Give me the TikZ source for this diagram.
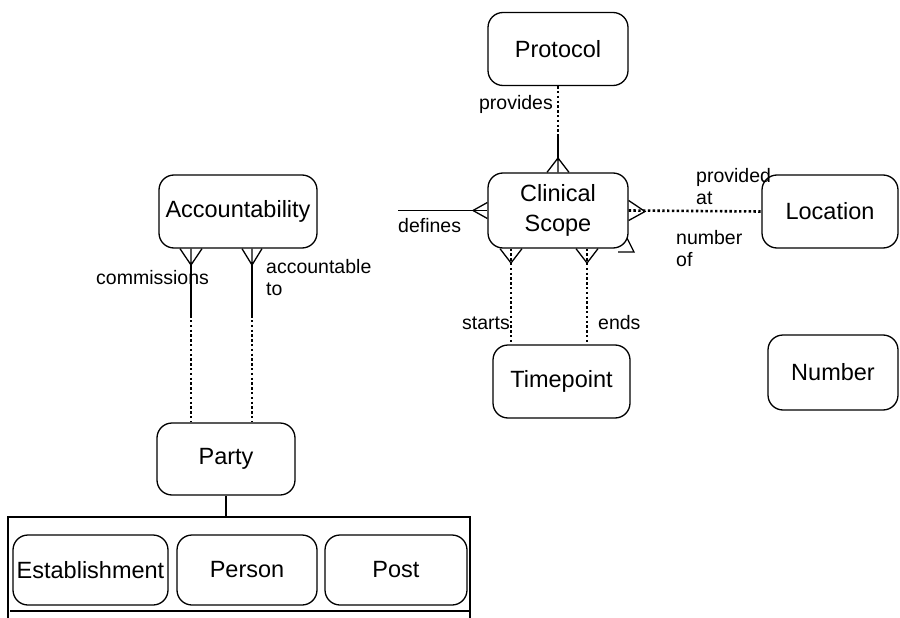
\documentclass[tikz,border=0pt]{standalone}
\usepackage{fontspec}
\setmainfont{Liberation Sans}
\usepackage{tikz}
\tikzstyle{entity} = [draw, line width=1.3pt, rounded corners=15pt, minimum width=140pt, minimum height=73pt, inner sep=0pt, align=center, font=\fontsize{23.5}{30}\selectfont]
\tikzstyle{lbl} = [inner sep=0pt, align=left, font=\fontsize{19.5}{22}\selectfont]
\tikzstyle{rel} = [line width=1.3pt]
\tikzstyle{opt} = [line width=2.6pt, dash pattern=on 2.4pt off 2.4pt]

\begin{document}
\begin{tikzpicture}[x=1pt,y=-1pt]
			\useasboundingbox (0,0) rectangle (900,618);
			%entities
			\node[entity] (protocol) at (558,49) {Protocol};
			\node[entity, minimum height=75pt] (scope) at (558,210.5) {Clinical\\Scope};
			\node[entity, minimum width=136pt] (location) at (830,211.5) {Location};
			\node[entity, minimum width=137pt] (timepoint) at (561.5,381.5) {Timepoint};
			\node[entity, minimum width=130pt, minimum height=75pt] (number) at (833,372.5) {Number};
			\node[entity, minimum width=158pt] (account) at (238,211.5) {Accountability};
			\node[entity, minimum width=138pt, minimum height=72pt] (party) at (226,459) {Party};
			%party subtypes
			\node[draw, line width=1.3pt, minimum width=462pt, minimum height=130pt, inner sep=0pt] (group) at (239,582) {};
			\node[entity, minimum width=155pt, minimum height=70pt] (establish) at (90.5,570) {Establishment};
			\node[entity, minimum width=140pt, minimum height=70pt] (person) at (247,570) {Person};
			\node[entity, minimum width=142pt, minimum height=70pt] (post) at (396,570) {Post};
			\draw[rel] (10,611) -- (470,611);
			\draw[rel] (party.south) -- (party.south |- group.north);
			
			%provides
			\coordinate (pv) at (558,135);
			\coordinate (pa) at (558,158);
			\draw[opt] (protocol.south) -- (pv);
			\draw[rel] (pv) -- (pa);
			\draw[rel] ([xshift=-11pt]scope.north) -- (pa) -- (scope.north) (pa) -- ([xshift=11pt]scope.north);
			\node[lbl, anchor=east] (provides) at (553,104) {provides};
			
			%defines
			\coordinate (df) at (398,210.5);
			\coordinate (da) at (473,210.5);
			\draw[rel] (df) -- (scope.west);
			\draw[rel] ([yshift=8pt]scope.west) -- (da) -- ([yshift=-8pt]scope.west);
			\node[lbl, anchor=west] (defines) at (398,226) {defines};
			
			%provided at / number of
			\coordinate (la) at (645,211.5);
			\draw[rel] ([yshift=10pt]scope.east) -- (la) -- ([yshift=-10pt]scope.east);
			\draw[opt] (scope.east) -- (location.west);
			\draw[rel] (627,238) -- (634,252) -- (618,252);
			\node[lbl, anchor=west] (provided) at (696,187) {provided\\at};
			\node[lbl, anchor=west] (numberof) at (676,249) {number\\of};
			
			%starts / ends
			\coordinate (sa) at (511,263);
			\coordinate (ea) at (587,263);
			\draw[rel] ([xshift=-11pt]sa |- scope.south) -- (sa) -- ([xshift=11pt]sa |- scope.south);
			\draw[rel] ([xshift=-11pt]ea |- scope.south) -- (ea) -- ([xshift=11pt]ea |- scope.south);
			\draw[opt] (sa |- scope.south) -- (sa |- timepoint.north);
			\draw[opt] (ea |- scope.south) -- (ea |- timepoint.north);
			\node[lbl, anchor=east] (starts) at (510,323) {starts};
			\node[lbl, anchor=west] (ends) at (598,323) {ends};
			
			%commissions / accountable to
			\coordinate (ca) at (191,265);
			\coordinate (cb) at (191,318);
			\coordinate (aa) at (252,265);
			\coordinate (ab) at (252,318);
			\draw[rel] ([xshift=-11pt]ca |- account.south) -- (ca) -- ([xshift=11pt]ca |- account.south) (ca) -- (ca |- account.south);
			\draw[rel] ([xshift=-10pt]aa |- account.south) -- (aa) -- ([xshift=10pt]aa |- account.south) (aa) -- (aa |- account.south);
			\draw[rel] (ca) -- (cb);
			\draw[rel] (aa) -- (ab);
			\draw[opt] ([yshift=-2pt]cb) -- (cb |- party.north);
			\draw[opt] ([yshift=-2pt]ab) -- (ab |- party.north);
			\node[lbl, anchor=west] (commissions) at (96,278) {commissions};
			\node[lbl, anchor=west] (accountable) at (266,278) {accountable\\to};
			
		\end{tikzpicture}
\end{document}
